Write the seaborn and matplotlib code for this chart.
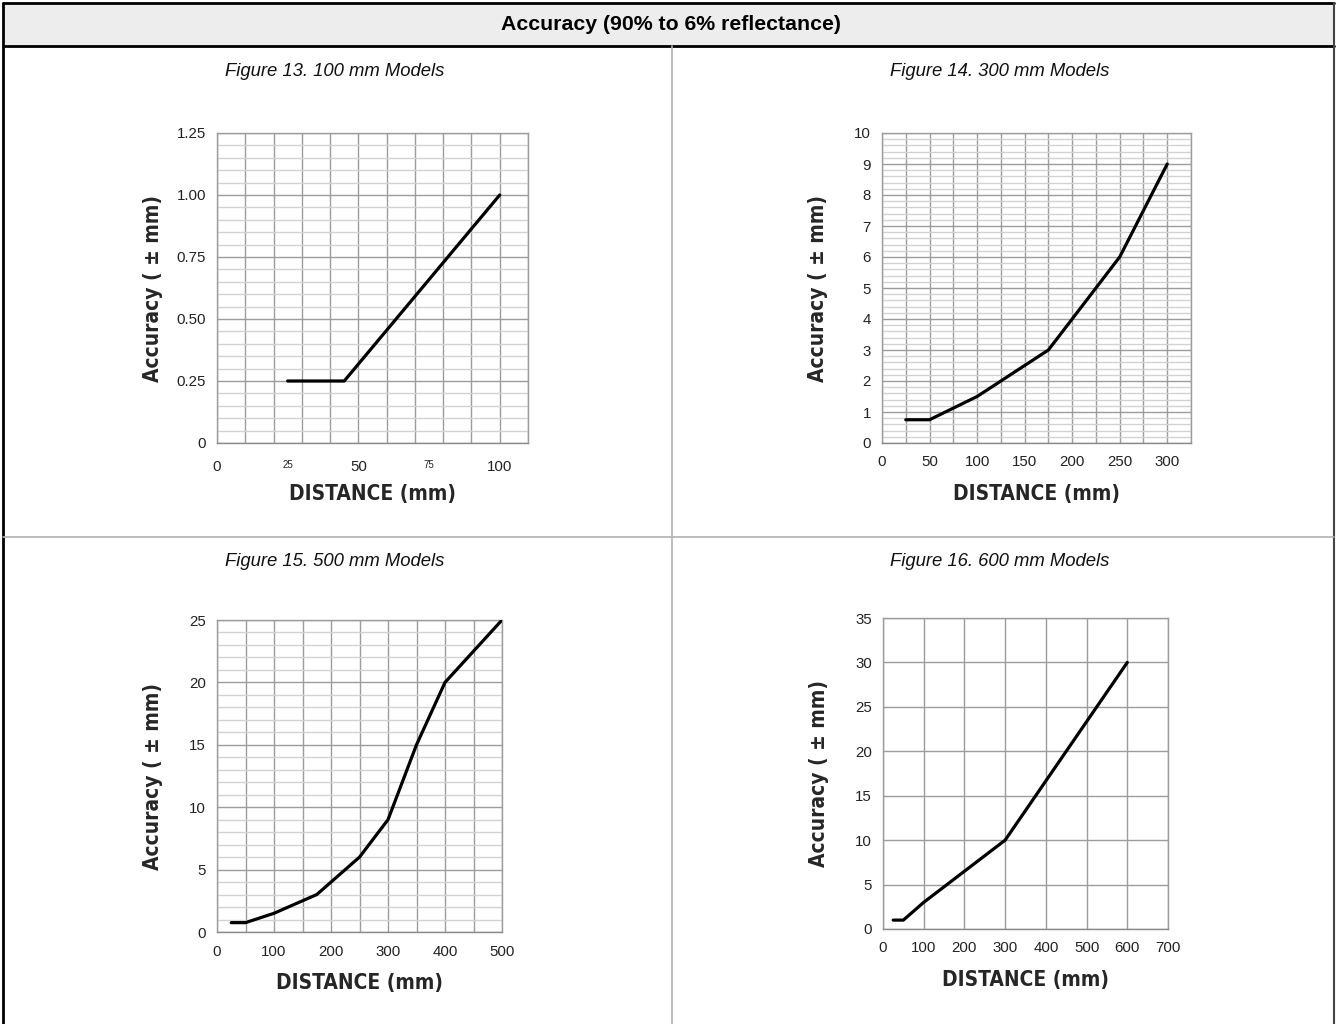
import numpy as np
import matplotlib
matplotlib.use('Agg')
import matplotlib.pyplot as plt
from matplotlib.ticker import MultipleLocator, FixedLocator, FuncFormatter
from matplotlib.lines import Line2D
from matplotlib.patches import Rectangle
from matplotlib import font_manager
import pandas as pd
import seaborn as sns


# ------------------
# データ
# ------------------
TITLE = 'Accuracy (90% to 6% reflectance)'
CAPTIONS = ['Figure 13. 100 mm Models', 'Figure 14. 300 mm Models',
            'Figure 15. 500 mm Models', 'Figure 16. 600 mm Models']

dist_100 = [25, 45, 100]
acc_100 = [0.25, 0.25, 1.0]

dist_300 = [25, 50, 100, 175, 200, 250, 300]
acc_300 = [0.75, 0.75, 1.5, 3, 4, 6, 9]

dist_500 = [25, 50, 100, 175, 250, 300, 350, 400, 500]
acc_500 = [0.75, 0.75, 1.5, 3, 6, 9, 15, 20, 25]

dist_600 = [25, 50, 100, 300, 600]
acc_600 = [1, 1, 3, 10, 30]

XLABEL = 'DISTANCE (mm)'
YLABEL = 'Accuracy ( \u00b1 mm)'


# ------------------
# 定数パラメータ設定
# ------------------
W, H = 1336, 1024
MAJOR_GRID = '#9c9c9c'
MINOR_GRID = '#d2d2d2'
DIVIDER = '#b0b0b0'

sns.set_style('white')
plt.rcParams['font.family'] = ['Liberation Sans', 'DejaVu Sans']


def find_label_font():
    """ 細幅の太字フォントを探す (無ければ通常の太字) """
    fl = font_manager.fontManager.ttflist
    for f in fl:
        if f.name == 'Liberation Sans Narrow' and f.weight in ('bold', 700):
            return font_manager.FontProperties(fname=f.fname, size=16.5)
    for f in fl:
        if f.name == 'DejaVu Sans' and f.stretch == 'condensed' and f.weight in ('bold', 700):
            return font_manager.FontProperties(fname=f.fname, size=15)
    return font_manager.FontProperties(family='Liberation Sans', weight='bold', size=15)


LABEL_FP = find_label_font()


def px_rect(left, top, right, bottom):
    """ ピクセル座標 -> figure座標 """
    return [left / W, 1 - bottom / H, (right - left) / W, (bottom - top) / H]


def fy(y):
    return 1 - y / H


def fx(x):
    return x / W


# 各パネルの設定
PANELS = [
    dict(x=dist_100, y=acc_100, box=(217, 133, 528, 443), xlim=110,
         xticks=[0, 25, 50, 75, 100], xgrid=10, ylim=1.25, ymajor=0.25, yminor=0.05,
         yfmt='%.2f'),
    dict(x=dist_300, y=acc_300, box=(882, 133, 1191, 443), xlim=325,
         xticks=list(range(0, 301, 50)), xgrid=25, ylim=10, ymajor=1, yminor=0.2,
         yfmt='%d'),
    dict(x=dist_500, y=acc_500, box=(217, 620, 502, 932), xlim=500,
         xticks=list(range(0, 501, 100)), xgrid=50, ylim=25, ymajor=5, yminor=1,
         yfmt='%d'),
    dict(x=dist_600, y=acc_600, box=(883, 618, 1168, 929), xlim=700,
         xticks=list(range(0, 701, 100)), xgrid=100, ylim=35, ymajor=5, yminor=None,
         yfmt='%d'),
]


def make_fmt(fmt):
    def f(v, pos):
        if abs(v) < 1e-9:
            return '0'
        return fmt % v
    return FuncFormatter(f)


def draw_panel(fig, p, idx):
    left, top, right, bottom = p['box']
    ax = fig.add_axes(px_rect(left, top, right, bottom))
    df = pd.DataFrame({'distance': p['x'], 'accuracy': p['y']})
    sns.lineplot(data=df, x='distance', y='accuracy', ax=ax, color='black',
                 linewidth=2.3, zorder=5, sort=False)

    ax.set_xlim(0, p['xlim'])
    ax.set_ylim(0, p['ylim'])

    # x: 目盛ラベルとグリッド線
    ax.xaxis.remove_overlapping_locs = False
    ax.xaxis.set_major_locator(FixedLocator(p['xticks']))
    ax.xaxis.set_minor_locator(MultipleLocator(p['xgrid']))
    ax.grid(False)
    ax.grid(True, which='minor', axis='x', color=MAJOR_GRID, linewidth=1.0)

    # y: 主/副グリッド
    ax.yaxis.set_major_locator(MultipleLocator(p['ymajor']))
    if p['yminor']:
        ax.yaxis.set_minor_locator(MultipleLocator(p['yminor']))
        ax.grid(True, which='minor', axis='y', color=MINOR_GRID, linewidth=1.0)
    ax.grid(True, which='major', axis='y', color=MAJOR_GRID, linewidth=1.0)
    ax.set_axisbelow(True)
    ax.yaxis.set_major_formatter(make_fmt(p['yfmt']))

    ax.tick_params(axis='both', which='both', labelsize=10.8, colors='#222222',
                   length=0)
    ax.tick_params(axis='x', which='major', pad=9)
    ax.tick_params(axis='y', which='major', pad=8)
    if idx == 0:
        # 25, 75 は小さい文字で表示
        ax.tick_params(axis='x', which='major', length=3, color='#777777',
                       direction='out')
        for lab, val in zip(ax.get_xticklabels(), p['xticks']):
            if val in (25, 75):
                lab.set_fontsize(7)

    for s in ax.spines.values():
        s.set_color(MAJOR_GRID)
        s.set_linewidth(1.0)
    ax.spines['bottom'].set_color('#8a8a8a')

    ax.set_xlabel(XLABEL, fontproperties=LABEL_FP)
    ax.set_ylabel(YLABEL, fontproperties=LABEL_FP)
    w = right - left
    h = bottom - top
    ax.xaxis.set_label_coords(0.5, -51 / h)
    ax.yaxis.set_label_coords(-64 / w, 0.5)
    ax.xaxis.label.set_va('center')
    ax.yaxis.label.set_va('center')
    return ax


def draw_table(fig):
    """ 表の枠線・見出し """
    fig.patches.append(Rectangle((fx(3), fy(46)), fx(1334) - fx(3), fy(3) - fy(46),
                                 transform=fig.transFigure, facecolor='#ededed',
                                 edgecolor='none', zorder=0))
    lines = [
        ((3, 1334), (3, 3), 'black', 2.0),
        ((3, 1334), (46, 46), 'black', 2.0),
        ((3, 3), (3, H), 'black', 2.0),
        ((1334, 1334), (3, H), '#444444', 1.5),
        ((672, 672), (46, H), DIVIDER, 1.2),
        ((3, 1334), (537, 537), DIVIDER, 1.2),
    ]
    for xs, ys, c, lw in lines:
        fig.lines.append(Line2D([fx(xs[0]), fx(xs[1])], [fy(ys[0]), fy(ys[1])],
                                transform=fig.transFigure, color=c, linewidth=lw))

    fig.text(fx(671), fy(25), TITLE, ha='center', va='center', fontsize=15.3,
             fontweight='bold', color='black')
    cap_pos = [(335, 72), (1000, 72), (335, 561), (1000, 561)]
    for (cx, cy), cap in zip(cap_pos, CAPTIONS):
        fig.text(fx(cx), fy(cy), cap, ha='center', va='center', fontsize=13.3,
                 style='italic', color='#111111')


def main():
    fig = plt.figure(figsize=(W / 100, H / 100), dpi=100)
    draw_table(fig)
    for i, p in enumerate(PANELS):
        draw_panel(fig, p, i)
    fig.savefig('out.png', dpi=100, facecolor='white')


if __name__ == '__main__':
    main()
